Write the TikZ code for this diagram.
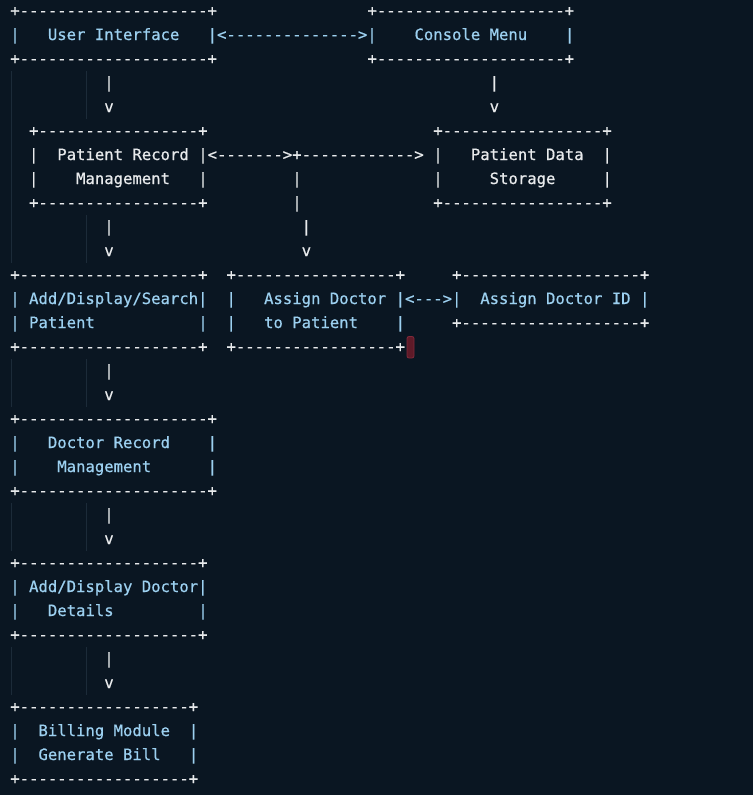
\documentclass[tikz,border=0pt]{standalone}
\usepackage{fontspec}
\setmonofont[FakeBold=0.6]{DejaVu Sans Mono}
\usepackage{xcolor}
\definecolor{bg}{HTML}{0A1622}
\definecolor{fgw}{HTML}{E8EAEC}
\definecolor{fgb}{HTML}{9CD0F0}
\definecolor{guide}{HTML}{1C2B39}
\definecolor{curfill}{HTML}{5E1A28}
\definecolor{curdraw}{HTML}{82293A}
% name, column, row, colour, text
\newcommand\seg[5]{\node[asc, text=#4] (#1) at ({10.3+9.4*#2},{-16-24*#3}) {#5};}
\begin{document}
\begin{tikzpicture}[x=1pt,y=1pt,
  asc/.style={anchor=base west, inner sep=0pt, outer sep=0pt,
    font=\ttfamily\fontsize{15.6}{24}\selectfont},
  guideline/.style={draw=guide, line width=0.9pt}]
\fill[bg] (0,0) rectangle (753,-795);
\useasboundingbox (0,0) rectangle (753,-795);
% indent guides
\draw[guideline] (11.7,-71) -- (11.7,-263);
\draw[guideline] (86.7,-71) -- (86.7,-119);
\draw[guideline] (86.7,-215) -- (86.7,-263);
\draw[guideline] (11.7,-359) -- (11.7,-407);
\draw[guideline] (86.7,-359) -- (86.7,-407);
\draw[guideline] (11.7,-503) -- (11.7,-551);
\draw[guideline] (86.7,-503) -- (86.7,-551);
\draw[guideline] (11.7,-647) -- (11.7,-695);
\draw[guideline] (86.7,-647) -- (86.7,-695);
% row 0-2: User Interface / Console Menu
\seg{uiT}{0}{0}{fgw}{+--------------------+}
\seg{cmT}{38}{0}{fgw}{+--------------------+}
\seg{uiL}{0}{1}{fgb}{|}
\seg{uiX}{4}{1}{fgb}{User Interface}
\seg{uiCm}{21}{1}{fgb}{|<-------------->|}
\seg{cmX}{43}{1}{fgb}{Console Menu}
\seg{cmR}{59}{1}{fgb}{|}
\seg{uiB}{0}{2}{fgw}{+--------------------+}
\seg{cmB}{38}{2}{fgw}{+--------------------+}
\seg{a1s}{10}{3}{fgw}{|}
\seg{a2s}{51}{3}{fgw}{|}
\seg{a1h}{10}{4}{fgw}{v}
\seg{a2h}{51}{4}{fgw}{v}
% rows 5-8: Patient Record Management / Patient Data Storage
\seg{prT}{2}{5}{fgw}{+-----------------+}
\seg{pdT}{45}{5}{fgw}{+-----------------+}
\seg{prL1}{2}{6}{fgw}{|}
\seg{prX1}{5}{6}{fgw}{Patient Record}
\seg{prArr}{20}{6}{fgw}{|<------->+------------>}
\seg{pdL1}{45}{6}{fgw}{|}
\seg{pdX1}{49}{6}{fgw}{Patient Data}
\seg{pdR1}{63}{6}{fgw}{|}
\seg{prL2}{2}{7}{fgw}{|}
\seg{prX2}{7}{7}{fgw}{Management}
\seg{prR2}{20}{7}{fgw}{|}
\seg{j1}{30}{7}{fgw}{|}
\seg{pdL2}{45}{7}{fgw}{|}
\seg{pdX2}{51}{7}{fgw}{Storage}
\seg{pdR2}{63}{7}{fgw}{|}
\seg{prB}{2}{8}{fgw}{+-----------------+}
\seg{j2}{30}{8}{fgw}{|}
\seg{pdB}{45}{8}{fgw}{+-----------------+}
\seg{a3s}{10}{9}{fgw}{|}
\seg{a4s}{31}{9}{fgw}{|}
\seg{a3h}{10}{10}{fgw}{v}
\seg{a4h}{31}{10}{fgw}{v}
% rows 11-14: Add/Display/Search, Assign Doctor, Assign Doctor ID
\seg{asT}{0}{11}{fgw}{+-------------------+}
\seg{adT}{23}{11}{fgw}{+-----------------+}
\seg{idT}{47}{11}{fgw}{+-------------------+}
\seg{asL1}{0}{12}{fgb}{|}
\seg{asX1}{2}{12}{fgb}{Add/Display/Search|}
\seg{adL1}{23}{12}{fgb}{|}
\seg{adX1}{27}{12}{fgb}{Assign Doctor}
\seg{adArr}{41}{12}{fgb}{|<--->|}
\seg{idX}{50}{12}{fgb}{Assign Doctor ID}
\seg{idR}{67}{12}{fgb}{|}
\seg{asL2}{0}{13}{fgb}{|}
\seg{asX2}{2}{13}{fgb}{Patient}
\seg{asR2}{20}{13}{fgb}{|}
\seg{adL2}{23}{13}{fgb}{|}
\seg{adX2}{27}{13}{fgb}{to Patient}
\seg{adR2}{41}{13}{fgb}{|}
\seg{idB}{47}{13}{fgw}{+-------------------+}
\seg{asB}{0}{14}{fgw}{+-------------------+}
\seg{adB}{23}{14}{fgw}{+-----------------+}
\draw[fill=curfill, draw=curdraw, line width=0.8pt, rounded corners=2pt] (407,-336.5) rectangle (414,-358);
\seg{a5s}{10}{15}{fgw}{|}
\seg{a5h}{10}{16}{fgw}{v}
% rows 17-20: Doctor Record Management
\seg{drT}{0}{17}{fgw}{+--------------------+}
\seg{drL1}{0}{18}{fgb}{|}
\seg{drX1}{4}{18}{fgb}{Doctor Record}
\seg{drR1}{21}{18}{fgb}{|}
\seg{drL2}{0}{19}{fgb}{|}
\seg{drX2}{5}{19}{fgb}{Management}
\seg{drR2}{21}{19}{fgb}{|}
\seg{drB}{0}{20}{fgw}{+--------------------+}
\seg{a6s}{10}{21}{fgw}{|}
\seg{a6h}{10}{22}{fgw}{v}
% rows 23-26: Add/Display Doctor Details
\seg{ddT}{0}{23}{fgw}{+-------------------+}
\seg{ddL1}{0}{24}{fgb}{|}
\seg{ddX1}{2}{24}{fgb}{Add/Display Doctor|}
\seg{ddL2}{0}{25}{fgb}{|}
\seg{ddX2}{4}{25}{fgb}{Details}
\seg{ddR2}{20}{25}{fgb}{|}
\seg{ddB}{0}{26}{fgw}{+-------------------+}
\seg{a7s}{10}{27}{fgw}{|}
\seg{a7h}{10}{28}{fgw}{v}
% rows 29-32: Billing Module
\seg{bmT}{0}{29}{fgw}{+------------------+}
\seg{bmL1}{0}{30}{fgb}{|}
\seg{bmX1}{3}{30}{fgb}{Billing Module}
\seg{bmR1}{19}{30}{fgb}{|}
\seg{bmL2}{0}{31}{fgb}{|}
\seg{bmX2}{3}{31}{fgb}{Generate Bill}
\seg{bmR2}{19}{31}{fgb}{|}
\seg{bmB}{0}{32}{fgw}{+------------------+}
\end{tikzpicture}
\end{document}
